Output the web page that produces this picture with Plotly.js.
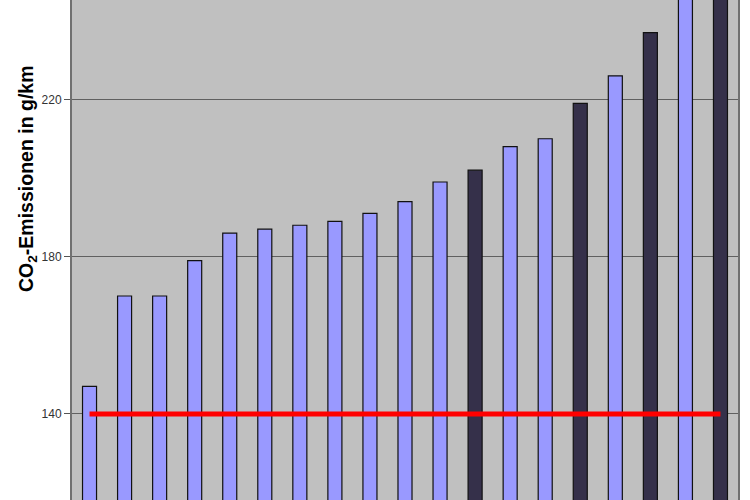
<!DOCTYPE html>
<html>
<head>
<meta charset="utf-8">
<script src="https://cdn.plot.ly/plotly-3.0.1.min.js"></script>
<style>html,body{margin:0;padding:0;background:#fff;}#chart{width:750px;height:500px;}</style>
</head>
<body>
<div id="chart"></div>
<script>
// Data
const categories = ["M1","M2","M3","M4","M5","M6","M7","M8","M9","M10","M11","M12","M13","M14","M15","M16","M17","M18","M19"];
const emissions = [147, 170, 170, 179, 186, 187, 188, 189, 191, 194, 199, 202, 208, 210, 219, 226, 237, 256, 262];
const highlighted = [0,0,0,0,0,0,0,0,0,0,0,1,0,0,1,0,1,0,1];
const limitValue = 140;
const tickValues = [140, 180, 220];
const yTitle = "CO<sub>2</sub>-Emissionen in g/km";

const lightColor = "#9999ff";
const darkColor = "#35304a";

const barTrace = {
  type: "bar",
  x: categories,
  y: emissions,
  marker: {
    color: highlighted.map(h => h ? darkColor : lightColor),
    line: {color: "#111111", width: 1.2}
  },
  hoverinfo: "x+y"
};

const limitTrace = {
  type: "scatter",
  mode: "lines",
  x: [categories[0], categories[categories.length - 1]],
  y: [limitValue, limitValue],
  line: {color: "#ff0000", width: 5},
  hoverinfo: "y"
};

const layout = {
  width: 750,
  height: 500,
  margin: {l: 72, r: 12, t: 0, b: 0, pad: 0},
  paper_bgcolor: "#ffffff",
  plot_bgcolor: "#c0c0c0",
  showlegend: false,
  bargap: 0.6,
  font: {family: "Liberation Sans, Arial, sans-serif", color: "#333333"},
  xaxis: {
    showticklabels: false,
    ticks: "",
    showgrid: false,
    zeroline: false,
    showline: false
  },
  yaxis: {
    range: [118.1, 245.3],
    tickvals: tickValues,
    ticktext: tickValues.map(String),
    ticks: "outside",
    ticklen: 6,
    tickcolor: "#555555",
    tickwidth: 1,
    tickfont: {size: 12, color: "#333333", family: "Liberation Sans, Arial, sans-serif"},
    showgrid: true,
    gridcolor: "#606060",
    gridwidth: 1,
    zeroline: false,
    showline: true,
    mirror: true,
    linecolor: "#707070",
    linewidth: 2
  },
  annotations: [{
    text: yTitle,
    textangle: -90,
    xref: "paper",
    yref: "paper",
    x: -0.0676,
    y: 0.642,
    xanchor: "center",
    yanchor: "middle",
    showarrow: false,
    font: {size: 19.5, color: "#000000", family: "Liberation Sans, Arial, sans-serif", weight: "bold"}
  }]
};

Plotly.newPlot("chart", [barTrace, limitTrace], layout, {displayModeBar: false, staticPlot: true});
</script>
</body>
</html>
